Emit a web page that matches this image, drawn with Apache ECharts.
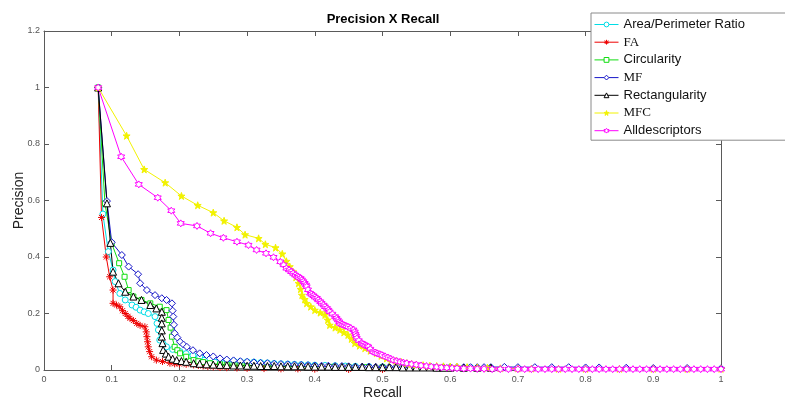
<!DOCTYPE html>
<html>
<head>
<meta charset="utf-8">
<script src="https://cdn.jsdelivr.net/npm/echarts@6/dist/echarts.min.js"></script>
<style>html,body{margin:0;padding:0;background:#fff}#c{width:785px;height:400px}</style>
</head>
<body>
<div id="c"></div>
<script>
var seriesNames = ['Area/Perimeter Ratio','FA','Circularity','MF','Rectangularity','MFC','Alldescriptors'];
var xTicks = [0,0.1,0.2,0.3,0.4,0.5,0.6,0.7,0.8,0.9,1];
var yTicks = [0,0.2,0.4,0.6,0.8,1,1.2];

var areaPerimeter = [[0.08,1.0],[0.087,0.552],[0.095,0.419],[0.102,0.354],[0.105,0.313],[0.112,0.271],[0.12,0.248],[0.13,0.23],[0.136,0.222],[0.142,0.212],[0.148,0.206],[0.154,0.2],[0.164,0.189],[0.167,0.165],[0.169,0.142],[0.171,0.106],[0.176,0.092],[0.181,0.082],[0.19,0.073],[0.201,0.065],[0.21,0.058],[0.22,0.052],[0.23,0.047],[0.245,0.041],[0.26,0.035],[0.27,0.034],[0.28,0.032],[0.29,0.03],[0.3,0.029],[0.31,0.028],[0.32,0.026],[0.33,0.025],[0.34,0.023],[0.35,0.022],[0.36,0.021],[0.37,0.02],[0.38,0.019],[0.39,0.018],[0.4,0.017],[0.415,0.016],[0.43,0.015],[0.445,0.014],[0.46,0.013],[0.48,0.012],[0.5,0.011],[0.525,0.011],[0.55,0.01],[0.575,0.01],[0.6,0.009],[0.63,0.009],[0.66,0.008]];
var fa = [[0.08,1.0],[0.085,0.54],[0.092,0.40],[0.097,0.33],[0.102,0.283],[0.102,0.236],[0.107,0.23],[0.112,0.224],[0.116,0.21],[0.12,0.2],[0.124,0.19],[0.127,0.183],[0.132,0.175],[0.137,0.165],[0.142,0.158],[0.149,0.153],[0.151,0.135],[0.152,0.118],[0.153,0.1],[0.154,0.082],[0.156,0.065],[0.159,0.047],[0.166,0.035],[0.175,0.03],[0.186,0.024],[0.193,0.022],[0.2,0.021],[0.21,0.02],[0.221,0.018],[0.228,0.016],[0.235,0.014],[0.242,0.012],[0.25,0.011],[0.26,0.009],[0.27,0.008],[0.285,0.007],[0.3,0.006],[0.325,0.005],[0.35,0.004],[0.375,0.004],[0.4,0.003],[0.45,0.002],[0.5,0.002]];
var circularity = [[0.08,1.0],[0.09,0.59],[0.1,0.448],[0.111,0.378],[0.119,0.33],[0.125,0.283],[0.132,0.26],[0.144,0.248],[0.157,0.236],[0.171,0.224],[0.181,0.212],[0.184,0.177],[0.187,0.15],[0.189,0.118],[0.193,0.082],[0.197,0.07],[0.201,0.059],[0.21,0.047],[0.221,0.035],[0.228,0.031],[0.235,0.028],[0.245,0.024],[0.26,0.02],[0.27,0.019],[0.28,0.018],[0.29,0.017],[0.3,0.016],[0.315,0.015],[0.33,0.014],[0.345,0.014],[0.36,0.013],[0.38,0.012],[0.4,0.012],[0.425,0.011],[0.45,0.011],[0.475,0.01],[0.5,0.01]];
var mf = [[0.08,1.0],[0.093,0.598],[0.1,0.452],[0.115,0.407],[0.125,0.366],[0.139,0.339],[0.142,0.307],[0.152,0.283],[0.164,0.265],[0.174,0.254],[0.181,0.248],[0.189,0.236],[0.19,0.21],[0.191,0.189],[0.192,0.16],[0.193,0.13],[0.197,0.115],[0.201,0.1],[0.206,0.09],[0.211,0.082],[0.22,0.07],[0.23,0.059],[0.24,0.053],[0.25,0.048],[0.26,0.041],[0.27,0.037],[0.28,0.034],[0.29,0.031],[0.3,0.029],[0.31,0.027],[0.32,0.025],[0.33,0.024],[0.34,0.022],[0.35,0.021],[0.36,0.02],[0.37,0.019],[0.38,0.018],[0.39,0.017],[0.4,0.016],[0.41,0.015],[0.42,0.015],[0.43,0.014],[0.44,0.014],[0.45,0.013],[0.46,0.012],[0.47,0.012],[0.48,0.012],[0.49,0.011],[0.5,0.011],[0.51,0.011],[0.52,0.011],[0.53,0.01],[0.54,0.01],[0.55,0.01],[0.56,0.01],[0.57,0.01],[0.58,0.01],[0.59,0.01],[0.6,0.01],[0.61,0.01],[0.62,0.01],[0.63,0.01],[0.64,0.01],[0.65,0.01],[0.66,0.01],[0.68,0.011],[0.7,0.01],[0.725,0.01],[0.75,0.01],[0.775,0.01],[0.8,0.009],[0.82,0.009],[0.86,0.008],[0.9,0.007],[0.95,0.007],[1.0,0.006]];
var rectangularity = [[0.08,1.0],[0.093,0.59],[0.098,0.45],[0.102,0.348],[0.11,0.307],[0.12,0.277],[0.132,0.26],[0.144,0.248],[0.157,0.23],[0.166,0.218],[0.174,0.206],[0.174,0.185],[0.174,0.165],[0.174,0.14],[0.174,0.118],[0.175,0.095],[0.176,0.071],[0.18,0.058],[0.184,0.047],[0.19,0.04],[0.196,0.035],[0.203,0.032],[0.21,0.029],[0.221,0.024],[0.23,0.022],[0.24,0.02],[0.25,0.019],[0.26,0.018],[0.27,0.017],[0.28,0.016],[0.29,0.016],[0.3,0.015],[0.31,0.015],[0.32,0.014],[0.33,0.014],[0.34,0.014],[0.35,0.013],[0.36,0.013],[0.37,0.013],[0.38,0.013],[0.39,0.012],[0.4,0.012],[0.41,0.012],[0.42,0.012],[0.43,0.011],[0.44,0.011],[0.45,0.011],[0.46,0.011],[0.47,0.011],[0.48,0.01],[0.49,0.01],[0.5,0.01],[0.51,0.01],[0.52,0.01],[0.53,0.009],[0.54,0.009],[0.55,0.009],[0.56,0.009],[0.57,0.009],[0.58,0.008],[0.59,0.008],[0.6,0.008],[0.62,0.008],[0.64,0.008],[0.66,0.008]];
var mfc = [[0.08,1.0],[0.122,0.829],[0.148,0.71],[0.179,0.663],[0.203,0.616],[0.227,0.583],[0.25,0.557],[0.266,0.528],[0.285,0.505],[0.297,0.479],[0.317,0.466],[0.327,0.445],[0.342,0.433],[0.352,0.411],[0.358,0.385],[0.363,0.366],[0.368,0.348],[0.372,0.328],[0.376,0.307],[0.379,0.286],[0.381,0.265],[0.385,0.25],[0.388,0.236],[0.394,0.224],[0.4,0.212],[0.408,0.203],[0.415,0.195],[0.419,0.177],[0.422,0.159],[0.43,0.15],[0.437,0.142],[0.443,0.133],[0.449,0.124],[0.454,0.11],[0.459,0.095],[0.466,0.086],[0.474,0.077],[0.482,0.068],[0.491,0.059],[0.498,0.05],[0.506,0.041],[0.513,0.036],[0.52,0.032],[0.528,0.028],[0.536,0.024],[0.543,0.021],[0.55,0.019],[0.56,0.017],[0.57,0.015],[0.58,0.014],[0.59,0.013],[0.6,0.012],[0.61,0.012],[0.625,0.01],[0.64,0.009],[0.655,0.008],[0.674,0.006],[0.7,0.005],[0.72,0.005],[0.76,0.004],[0.8,0.004],[0.85,0.004],[0.9,0.004],[0.95,0.004],[1.0,0.004]];
var allDescriptors = [[0.08,1.0],[0.114,0.755],[0.14,0.657],[0.168,0.61],[0.188,0.564],[0.202,0.519],[0.226,0.51],[0.246,0.484],[0.265,0.468],[0.285,0.454],[0.302,0.442],[0.314,0.425],[0.328,0.413],[0.339,0.399],[0.349,0.383],[0.354,0.372],[0.358,0.36],[0.362,0.354],[0.365,0.348],[0.368,0.342],[0.371,0.336],[0.374,0.332],[0.376,0.328],[0.379,0.324],[0.381,0.319],[0.383,0.313],[0.385,0.307],[0.387,0.301],[0.388,0.295],[0.39,0.284],[0.393,0.272],[0.395,0.268],[0.398,0.263],[0.4,0.258],[0.403,0.254],[0.405,0.248],[0.408,0.242],[0.41,0.236],[0.413,0.23],[0.415,0.224],[0.418,0.218],[0.42,0.212],[0.422,0.206],[0.426,0.198],[0.43,0.189],[0.432,0.183],[0.434,0.177],[0.436,0.171],[0.437,0.165],[0.44,0.162],[0.443,0.159],[0.446,0.156],[0.449,0.153],[0.453,0.148],[0.457,0.142],[0.459,0.135],[0.46,0.127],[0.461,0.12],[0.462,0.112],[0.465,0.104],[0.469,0.095],[0.471,0.092],[0.474,0.088],[0.477,0.085],[0.479,0.082],[0.482,0.074],[0.486,0.065],[0.489,0.062],[0.492,0.059],[0.496,0.056],[0.499,0.053],[0.504,0.048],[0.508,0.044],[0.512,0.039],[0.516,0.035],[0.521,0.032],[0.526,0.029],[0.531,0.026],[0.536,0.024],[0.543,0.021],[0.55,0.019],[0.557,0.016],[0.565,0.014],[0.572,0.012],[0.58,0.011],[0.587,0.009],[0.595,0.008],[0.603,0.007],[0.61,0.006],[0.62,0.005],[0.63,0.005],[0.64,0.004],[0.65,0.004],[0.662,0.003],[0.674,0.003],[0.686,0.003],[0.7,0.003],[0.71,0.003],[0.72,0.003],[0.73,0.003],[0.74,0.003],[0.75,0.003],[0.76,0.003],[0.77,0.003],[0.78,0.003],[0.79,0.003],[0.8,0.003],[0.81,0.003],[0.82,0.003],[0.83,0.003],[0.84,0.003],[0.85,0.003],[0.86,0.003],[0.87,0.003],[0.88,0.003],[0.89,0.003],[0.9,0.003],[0.91,0.003],[0.92,0.003],[0.93,0.003],[0.94,0.003],[0.95,0.003],[0.96,0.003],[0.97,0.003],[0.98,0.003],[0.99,0.003],[1.0,0.003]];

var seriesData = [areaPerimeter, fa, circularity, mf, rectangularity, mfc, allDescriptors];
var colors = ['#00dde6','#ee0000','#11dd11','#1515c8','#000000','#f2f200','#ff00ff'];
var ASTER = 'path://M0,-5L0,5M-5,0L5,0M-3.6,-3.6L3.6,3.6M-3.6,3.6L3.6,-3.6';
var STAR = 'path://M0,-5L1.18,-1.62L4.76,-1.55L1.9,0.62L2.94,4.05L0,2L-2.94,4.05L-1.9,0.62L-4.76,-1.55L-1.18,-1.62Z';
var HEX = 'path://M0,-5L1.44,-2.5L4.33,-2.5L2.89,0L4.33,2.5L1.44,2.5L0,5L-1.44,2.5L-4.33,2.5L-2.89,0L-4.33,-2.5L-1.44,-2.5Z';
var symbols = ['circle', ASTER, 'rect', 'diamond', 'triangle', STAR, HEX];
var sizes = [6, 7, 5, 7, 7, 7, 7];
var fills = ['#ffffff', 'none', '#ffffff', '#ffffff', '#ffffff', null, '#ffffff'];
var serifNames = ['FA','MF','MFC'];

var chart = echarts.init(document.getElementById('c'), null, {renderer:'canvas'});
var axisColor = '#5a5a5a';
var series = seriesNames.map(function(n, i){
  return {
    name: n, type: 'line', data: seriesData[i],
    xAxisIndex: 0, yAxisIndex: 0,
    symbol: symbols[i], symbolSize: sizes[i], showSymbol: true, showAllSymbol: true,
    animation: false,
    lineStyle: {color: colors[i], width: 1},
    itemStyle: {color: fills[i] === null ? colors[i] : fills[i], borderColor: colors[i], borderWidth: 1},
    emphasis: {disabled: true}
  };
});

chart.setOption({
  animation: false,
  backgroundColor: '#ffffff',
  grid: {left: 44, right: 64, top: 31, bottom: 30, containLabel: false, outerBoundsMode: 'none'},
  graphic: [{type:'text', x: 383, y: 13, style: {text: 'Precision X Recall', font: 'bold 13px "Liberation Sans", Arial, sans-serif', fill: '#000', textAlign: 'center'}}],
  legend: {
    orient: 'vertical', left: 591, top: 13, data: seriesNames,
    itemWidth: 24, itemHeight: 6, itemGap: 2.7,
    padding: [4, 60, 2, 3],
    backgroundColor: '#ffffff', borderColor: '#8a8a8a', borderWidth: 1, borderRadius: 0,
    selectedMode: false,
    lineStyle: {width: 1},
    itemStyle: {borderWidth: 1},
    textStyle: {fontSize: 13, lineHeight: 15, color: '#000', rich: {
      s: {fontFamily: '"Liberation Sans", Arial, sans-serif', fontSize: 13, lineHeight: 15, color: '#111'},
      t: {fontFamily: '"Liberation Serif", "Times New Roman", serif', fontSize: 13, lineHeight: 15, color: '#111'}
    }},
    formatter: function(name){ return serifNames.indexOf(name) >= 0 ? '{t|' + name + '}' : '{s|' + name + '}'; }
  },
  xAxis: [
    {type: 'value', min: xTicks[0], max: xTicks[xTicks.length-1], interval: 0.1, position: 'bottom',
     name: 'Recall', nameLocation: 'middle', nameGap: 16, nameMoveOverlap: false,
     nameTextStyle: {fontSize: 14, color: '#222', fontFamily: '"Liberation Sans", Arial, sans-serif'},
     axisLine: {show: true, lineStyle: {color: axisColor}}, axisTick: {show: true, inside: true, length: 5, lineStyle: {color: axisColor}},
     axisLabel: {fontSize: 9, color: '#555', margin: 5, fontFamily: '"Liberation Sans", Arial, sans-serif'}, splitLine: {show: false}},
    {type: 'value', min: xTicks[0], max: xTicks[xTicks.length-1], interval: 0.1, position: 'top',
     axisLine: {show: true, onZero: false, lineStyle: {color: axisColor}}, axisTick: {show: true, inside: true, length: 5, lineStyle: {color: axisColor}},
     axisLabel: {show: false}, splitLine: {show: false}}
  ],
  yAxis: [
    {type: 'value', min: yTicks[0], max: yTicks[yTicks.length-1], interval: 0.2, position: 'left',
     name: 'Precision', nameLocation: 'middle', nameGap: 18, nameMoveOverlap: false,
     nameTextStyle: {fontSize: 14, color: '#222', fontFamily: '"Liberation Sans", Arial, sans-serif'},
     axisLine: {show: true, lineStyle: {color: axisColor}}, axisTick: {show: true, inside: true, length: 5, lineStyle: {color: axisColor}},
     axisLabel: {fontSize: 9, color: '#555', margin: 4, fontFamily: '"Liberation Sans", Arial, sans-serif'}, splitLine: {show: false}},
    {type: 'value', min: yTicks[0], max: yTicks[yTicks.length-1], interval: 0.2, position: 'right',
     axisLine: {show: true, onZero: false, lineStyle: {color: axisColor}}, axisTick: {show: true, inside: true, length: 5, lineStyle: {color: axisColor}},
     axisLabel: {show: false}, splitLine: {show: false}}
  ],
  series: series
});
</script>
</body>
</html>
